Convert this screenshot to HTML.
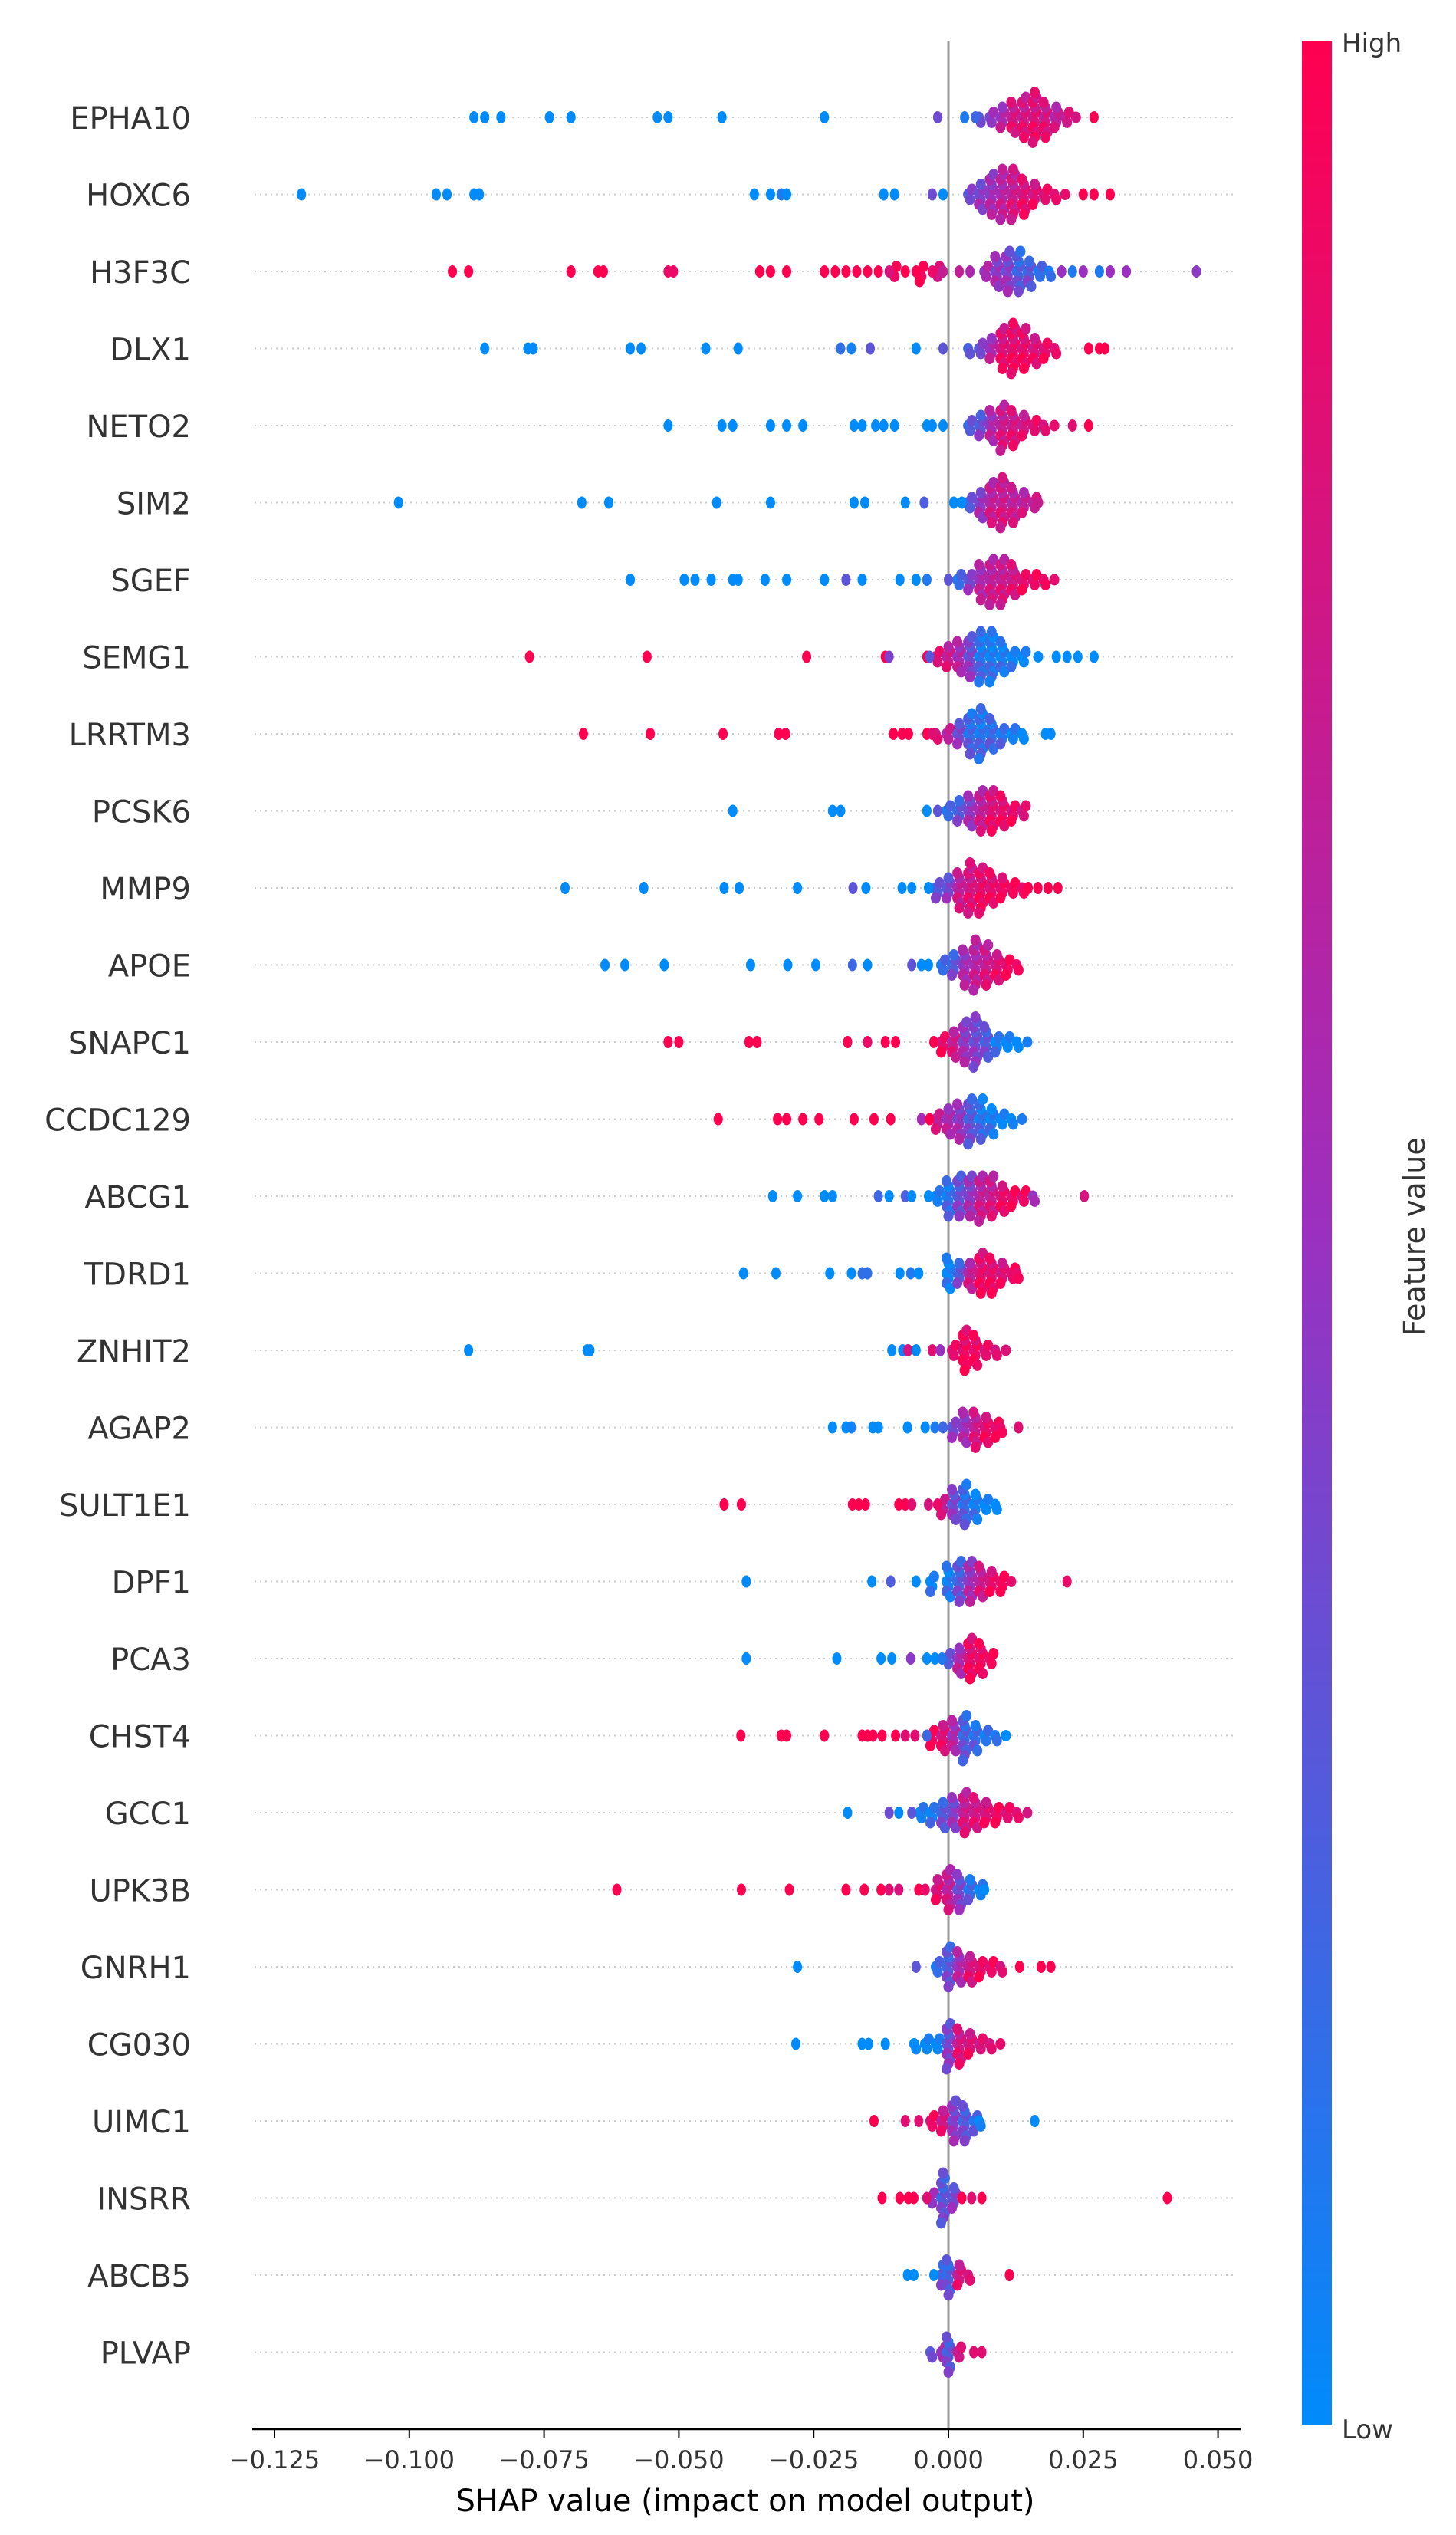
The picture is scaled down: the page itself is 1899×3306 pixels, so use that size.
<!DOCTYPE html>
<html><head><meta charset="utf-8">
<style>
html,body{margin:0;padding:0;background:#fff;}
svg{display:block;font-family:"DejaVu Sans","Liberation Sans",sans-serif;}
</style></head>
<body>
<svg id="chart" width="1899" height="3306" viewBox="0 0 1899 3306">
<defs>
<linearGradient id="cbar" x1="0" y1="1" x2="0" y2="0">
<stop offset="0" stop-color="#008bfb"/>
<stop offset="0.5" stop-color="#9b30c0"/>
<stop offset="1" stop-color="#ff0051"/>
</linearGradient>
</defs>
<g id="rows"></g>
<line x1="1237" y1="53" x2="1237" y2="3168" stroke="#999" stroke-width="3"/>
<g id="dots"></g>
<line x1="329" y1="3168" x2="1619" y2="3168" stroke="#000" stroke-width="2.5"/>
<g id="xticks"></g>
<text x="972" y="3275" font-size="40" text-anchor="middle" fill="#000">SHAP value (impact on model output)</text>
<rect x="1698" y="53" width="39" height="3110" fill="url(#cbar)"/>
<text x="1750" y="68" font-size="34" fill="#333">High</text>
<text x="1750" y="3180" font-size="34" fill="#333">Low</text>
<text transform="translate(1858,1613) rotate(-90)" font-size="38" text-anchor="middle" fill="#333">Feature value</text>
</svg>
<script>
const features = ["EPHA10","HOXC6","H3F3C","DLX1","NETO2","SIM2","SGEF","SEMG1","LRRTM3","PCSK6","MMP9","APOE","SNAPC1","CCDC129","ABCG1","TDRD1","ZNHIT2","AGAP2","SULT1E1","DPF1","PCA3","CHST4","GCC1","UPK3B","GNRH1","CG030","UIMC1","INSRR","ABCB5","PLVAP"];
const xTicks = [-0.125,-0.100,-0.075,-0.050,-0.025,0.000,0.025,0.050];
const xTickLabels = ["\u22120.125","\u22120.100","\u22120.075","\u22120.050","\u22120.025","0.000","0.025","0.050"];
// outliers: [shap value, feature value 0..1]
const outliers = [
 [[-0.088,0],[-0.086,0],[-0.083,0],[-0.074,0],[-0.070,0],[-0.054,0],[-0.052,0],[-0.042,0],[-0.023,0],[-0.002,0.35],[0.003,0.1],[0.005,0.2],[0.027,1]],
 [[-0.120,0],[-0.095,0],[-0.093,0],[-0.088,0],[-0.087,0],[-0.036,0],[-0.033,0],[-0.031,0.1],[-0.030,0],[-0.012,0],[-0.010,0],[-0.003,0.35],[-0.001,0],[0.025,1],[0.027,1],[0.030,1]],
 [[-0.092,1],[-0.089,1],[-0.070,1],[-0.065,1],[-0.064,1],[-0.052,0.9],[-0.051,0.9],[-0.035,1],[-0.033,1],[-0.030,1],[-0.023,1],[-0.021,1],[-0.019,1],[-0.017,1],[-0.015,1],[-0.013,1],[-0.011,0.8],[-0.008,1],[-0.006,1],[-0.003,0.9],[-0.001,0.7],[0.002,0.7],[0.004,0.6],[0.021,0.5],[0.023,0.1],[0.025,0.5],[0.028,0.1],[0.030,0.5],[0.033,0.5],[0.046,0.45]],
 [[-0.086,0],[-0.078,0],[-0.077,0],[-0.059,0],[-0.057,0],[-0.045,0],[-0.039,0],[-0.020,0.15],[-0.018,0.05],[-0.0145,0.3],[-0.006,0],[-0.001,0.3],[0.026,1],[0.028,1],[0.029,1]],
 [[-0.052,0],[-0.042,0],[-0.040,0],[-0.033,0],[-0.030,0],[-0.027,0],[-0.0175,0],[-0.016,0],[-0.0135,0],[-0.012,0],[-0.010,0],[-0.004,0],[-0.003,0],[-0.001,0],[0.023,0.85],[0.026,1]],
 [[-0.102,0],[-0.068,0],[-0.063,0],[-0.043,0],[-0.033,0],[-0.0175,0],[-0.0155,0],[-0.008,0],[-0.0045,0.25],[0.001,0],[0.0025,0]],
 [[-0.059,0],[-0.049,0],[-0.047,0],[-0.044,0],[-0.040,0],[-0.039,0],[-0.034,0],[-0.030,0],[-0.023,0],[-0.019,0.3],[-0.016,0],[-0.009,0],[-0.006,0],[-0.004,0.1],[0.000,0.3]],
 [[-0.0777,1],[-0.0559,1],[-0.0263,1],[-0.0117,1],[-0.011,0.4],[-0.004,1],[-0.0035,0.3],[0.020,0],[0.022,0],[0.024,0],[0.027,0]],
 [[-0.0677,1],[-0.0553,1],[-0.0418,1],[-0.0315,1],[-0.0302,1],[-0.0102,1],[-0.0086,1],[-0.0074,1],[-0.004,1],[-0.003,0.85],[0.018,0],[0.019,0]],
 [[-0.040,0],[-0.0215,0],[-0.020,0],[-0.004,0],[-0.002,0.3]],
 [[-0.0711,0],[-0.0565,0],[-0.0416,0],[-0.0388,0],[-0.028,0],[-0.0177,0.3],[-0.0153,0],[-0.0086,0],[-0.0068,0],[-0.0037,0],[0.0148,1],[0.0166,1],[0.0185,1],[0.0203,1]],
 [[-0.0637,0],[-0.0600,0],[-0.0527,0],[-0.0367,0],[-0.0298,0],[-0.0246,0],[-0.0178,0.2],[-0.015,0],[-0.0068,0.3],[-0.005,0],[-0.0037,0]],
 [[-0.052,1],[-0.050,1],[-0.037,1],[-0.0355,1],[-0.0187,1],[-0.015,0.9],[-0.0117,1],[-0.0098,1],[-0.0027,1]],
 [[-0.0427,1],[-0.0317,1],[-0.030,1],[-0.027,1],[-0.024,1],[-0.0175,1],[-0.0138,1],[-0.0107,1],[-0.005,0.55],[-0.0035,1]],
 [[-0.0326,0],[-0.028,0],[-0.023,0],[-0.0215,0],[-0.013,0.2],[-0.011,0],[-0.008,0.25],[-0.0068,0],[-0.0037,0],[0.0252,0.8]],
 [[-0.038,0],[-0.032,0],[-0.022,0],[-0.018,0],[-0.016,0.15],[-0.015,0.15],[-0.009,0],[-0.007,0.1],[-0.0055,0]],
 [[-0.089,0],[-0.067,0],[-0.0665,0],[-0.0105,0],[-0.0085,0.05],[-0.0075,0.8],[-0.006,0],[-0.003,0.85],[-0.0015,0.5]],
 [[-0.0215,0],[-0.019,0],[-0.018,0.05],[-0.014,0],[-0.013,0],[-0.0076,0],[-0.0043,0],[-0.0025,0.1],[-0.001,0.2],[0.013,0.85]],
 [[-0.0416,1],[-0.0384,1],[-0.0178,1],[-0.0166,1],[-0.0154,1],[-0.0092,1],[-0.008,1],[-0.0068,0.85],[-0.0037,0.8],[-0.002,0.9]],
 [[-0.0375,0],[-0.0142,0],[-0.0107,0.25],[-0.006,0],[0.022,0.9]],
 [[-0.0375,0],[-0.0207,0],[-0.0125,0],[-0.0105,0],[-0.007,0.45],[-0.004,0],[-0.0025,0],[-0.0012,0.1]],
 [[-0.0385,1],[-0.031,1],[-0.030,1],[-0.023,1],[-0.016,1],[-0.015,1],[-0.014,1],[-0.0123,1],[-0.0098,1],[-0.008,0.85],[-0.0062,0.85],[-0.004,0.2]],
 [[-0.0187,0],[-0.011,0.35],[-0.0092,0],[-0.0068,0.3]],
 [[-0.0615,1],[-0.0384,1],[-0.0295,1],[-0.019,1],[-0.0156,1],[-0.0125,1],[-0.011,0.85],[-0.0092,0.8],[-0.0055,1],[-0.0043,0.9]],
 [[-0.028,0],[-0.006,0.3],[0.0132,1],[0.0172,1],[0.019,1]],
 [[-0.0283,0],[-0.016,0],[-0.0148,0],[-0.0117,0]],
 [[-0.0138,1],[-0.008,0.85],[-0.0055,0.85],[0.016,0]],
 [[-0.0123,1],[-0.009,1],[-0.0074,1],[-0.0064,1],[-0.004,0.85],[0.0025,1],[0.0043,0.85],[0.0062,1],[0.0406,1]],
 [[-0.0076,0],[-0.0064,0],[-0.0027,0],[0.0113,1]],
 [[0.0047,0.85],[0.0062,0.85]]
];
// dense clusters: [shap value, count, mean feature value]
const clusters = [
 [[0.006,2,0.4],[0.008,3,0.5],[0.010,5,0.6],[0.012,7,0.8],[0.014,9,0.8],[0.016,11,0.85],[0.018,8,0.8],[0.020,5,0.7],[0.022,3,0.8],[0.024,1,0.9]],
 [[0.004,3,0.4],[0.006,6,0.45],[0.008,9,0.55],[0.010,11,0.65],[0.012,11,0.75],[0.014,8,0.85],[0.016,5,0.85],[0.018,3,0.9],[0.020,2,0.95],[0.022,1,1]],
 [[-0.010,3,0.95],[-0.005,4,0.95],[-0.002,3,0.8],[0.007,3,0.6],[0.009,7,0.5],[0.011,9,0.45],[0.013,9,0.25],[0.015,6,0.3],[0.017,3,0.2],[0.019,2,0.2]],
 [[0.004,2,0.35],[0.006,3,0.4],[0.008,5,0.6],[0.010,9,0.85],[0.012,11,0.9],[0.014,9,0.9],[0.016,6,0.85],[0.018,4,0.9],[0.020,2,0.95]],
 [[0.004,3,0.3],[0.006,5,0.35],[0.008,7,0.6],[0.010,10,0.75],[0.012,8,0.8],[0.014,5,0.8],[0.016,3,0.9],[0.018,2,0.9],[0.020,1,1]],
 [[0.004,3,0.3],[0.006,6,0.5],[0.008,9,0.7],[0.010,11,0.75],[0.012,8,0.7],[0.014,5,0.7],[0.016,3,0.75],[0.017,1,0.85]],
 [[0.002,3,0.2],[0.004,4,0.4],[0.006,8,0.6],[0.008,10,0.7],[0.010,10,0.75],[0.012,7,0.8],[0.014,4,0.9],[0.016,3,0.95],[0.018,2,1],[0.020,1,1]],
 [[-0.002,3,0.85],[0.000,5,0.75],[0.002,7,0.6],[0.004,9,0.4],[0.006,11,0.15],[0.008,11,0.1],[0.010,7,0.1],[0.012,4,0.05],[0.014,3,0.05],[0.017,1,0]],
 [[-0.002,2,0.9],[0.000,3,0.7],[0.002,5,0.4],[0.004,9,0.2],[0.006,11,0.15],[0.008,7,0.2],[0.010,4,0.15],[0.012,3,0.1],[0.014,2,0.05]],
 [[0.000,3,0.2],[0.002,5,0.3],[0.004,7,0.5],[0.006,9,0.7],[0.008,9,0.85],[0.010,7,0.9],[0.012,4,0.9],[0.014,3,0.85]],
 [[-0.002,4,0.3],[0.000,5,0.4],[0.002,8,0.7],[0.004,11,0.8],[0.006,10,0.9],[0.008,7,0.9],[0.010,5,0.95],[0.012,3,1],[0.014,2,1]],
 [[-0.001,3,0.2],[0.001,5,0.3],[0.003,8,0.55],[0.005,11,0.65],[0.007,9,0.75],[0.009,6,0.85],[0.011,4,0.95],[0.013,2,1]],
 [[-0.001,4,0.9],[0.001,6,0.75],[0.003,9,0.5],[0.005,11,0.4],[0.007,7,0.3],[0.009,4,0.1],[0.011,3,0.05],[0.013,2,0.05],[0.015,1,0.2]],
 [[-0.002,4,0.7],[0.000,6,0.6],[0.002,8,0.5],[0.004,10,0.3],[0.006,9,0.15],[0.008,6,0.1],[0.010,3,0.05],[0.012,2,0.1],[0.014,1,0.2]],
 [[-0.002,3,0.1],[0.000,8,0.15],[0.002,9,0.35],[0.004,9,0.5],[0.006,10,0.7],[0.008,9,0.75],[0.010,6,0.9],[0.012,4,0.95],[0.014,3,0.95],[0.016,2,0.6]],
 [[0.000,7,0.05],[0.002,5,0.3],[0.004,6,0.7],[0.006,9,0.9],[0.008,8,0.9],[0.010,5,0.85],[0.012,3,0.95],[0.013,2,1]],
 [[0.001,3,0.9],[0.003,9,0.95],[0.005,7,0.95],[0.007,3,0.9],[0.009,2,0.9],[0.011,1,0.95]],
 [[0.001,4,0.4],[0.003,7,0.55],[0.005,8,0.75],[0.007,6,0.9],[0.009,4,0.95],[0.010,2,1]],
 [[-0.001,4,0.7],[0.001,7,0.4],[0.003,9,0.2],[0.005,6,0.1],[0.007,3,0.05],[0.009,2,0.05]],
 [[-0.003,4,0.05],[0.000,7,0.1],[0.002,9,0.3],[0.004,9,0.55],[0.006,7,0.75],[0.008,5,0.9],[0.010,4,1],[0.012,1,1]],
 [[0.000,3,0.3],[0.002,6,0.6],[0.004,9,0.9],[0.006,7,0.95],[0.008,3,1]],
 [[-0.003,4,0.95],[-0.001,6,0.85],[0.001,7,0.6],[0.003,10,0.25],[0.005,6,0.2],[0.007,3,0.15],[0.009,2,0.2],[0.011,1,0.1]],
 [[-0.005,3,0.1],[-0.003,4,0.1],[-0.001,6,0.3],[0.001,7,0.45],[0.003,9,0.75],[0.005,7,0.8],[0.007,5,0.85],[0.009,4,0.95],[0.011,3,0.9],[0.013,2,0.95],[0.015,1,0.9]],
 [[-0.002,5,0.85],[0.000,9,0.7],[0.002,8,0.4],[0.004,5,0.2],[0.006,3,0.1],[0.007,1,0.05]],
 [[-0.002,3,0.2],[0.000,9,0.3],[0.002,7,0.6],[0.004,6,0.8],[0.006,4,0.9],[0.008,3,0.95],[0.010,2,0.9]],
 [[-0.006,2,0.05],[-0.004,3,0.05],[-0.002,3,0.05],[0.000,10,0.4],[0.002,8,0.8],[0.004,5,0.85],[0.006,3,0.85],[0.008,2,0.9],[0.010,1,1]],
 [[-0.003,3,0.95],[-0.001,5,0.8],[0.001,9,0.45],[0.003,8,0.3],[0.005,4,0.2],[0.006,2,0.1]],
 [[-0.003,3,0.5],[-0.001,11,0.3],[0.001,5,0.4]],
 [[-0.001,5,0.3],[0.000,8,0.25],[0.002,5,0.8],[0.004,2,0.9]],
 [[-0.003,2,0.4],[-0.001,3,0.6],[0.000,8,0.3],[0.002,3,0.8]]
];

const NS = "http://www.w3.org/2000/svg";
const X0 = 1237, PXU = 7032, ROW0 = 153, ROWH = 100.5, R = 6.5, STEP = 6.5;
function xScale(v){ return X0 + v*PXU; }
function yRow(i){ return ROW0 + i*ROWH; }
function lerp(a,b,t){ return Math.round(a+(b-a)*t); }
function color(t){
  const s0=[0,139,251], s1=[155,48,192], s2=[255,0,81];
  let a,b,u;
  if(t<0.5){a=s0;b=s1;u=t/0.5;} else {a=s1;b=s2;u=(t-0.5)/0.5;}
  return "rgb("+lerp(a[0],b[0],u)+","+lerp(a[1],b[1],u)+","+lerp(a[2],b[2],u)+")";
}
const rowsG = document.getElementById("rows");
const dotsG = document.getElementById("dots");
const tickG = document.getElementById("xticks");

features.forEach(function(f,i){
  const y = yRow(i);
  const ln = document.createElementNS(NS,"line");
  ln.setAttribute("x1",332); ln.setAttribute("x2",1611);
  ln.setAttribute("y1",y); ln.setAttribute("y2",y);
  ln.setAttribute("stroke","#cccccc"); ln.setAttribute("stroke-width","2");
  ln.setAttribute("stroke-dasharray","2 5");
  
  
  rowsG.appendChild(ln);
  const tx = document.createElementNS(NS,"text");
  tx.setAttribute("x",249); tx.setAttribute("y",y+15);
  tx.setAttribute("text-anchor","end"); tx.setAttribute("font-size","40");
  tx.setAttribute("fill","#333");
  tx.textContent = f;
  
  
  rowsG.appendChild(tx);

  const g = document.createElementNS(NS,"g");
  
  
  dotsG.appendChild(g);
  clusters[i].forEach(function(c){
    const n=c[1];
    for(let k=0;k<n;k++){
      const off = (k===0)?0:(k%2===1? Math.ceil(k/2) : -Math.ceil(k/2));
      const e = document.createElementNS(NS,"ellipse");
      e.setAttribute("cx", xScale(c[0]) + ((k%3)-1)*2.5);
      e.setAttribute("cy", y + off*STEP);
      e.setAttribute("rx", R); e.setAttribute("ry", R+1);
      e.setAttribute("fill", color(Math.min(1,Math.max(0,c[2] + ((k%4)-1.5)*0.08))));
      
      
      g.appendChild(e);
    }
  });
  outliers[i].forEach(function(p){
    const e = document.createElementNS(NS,"ellipse");
    e.setAttribute("cx", xScale(p[0])); e.setAttribute("cy", y);
    e.setAttribute("rx", R-0.5); e.setAttribute("ry", R+1.5);
    e.setAttribute("fill", color(p[1]));
    
    
    g.appendChild(e);
  });
});

xTicks.forEach(function(v,j){
  const x = xScale(v);
  const t = document.createElementNS(NS,"line");
  t.setAttribute("x1",x); t.setAttribute("x2",x);
  t.setAttribute("y1",3168); t.setAttribute("y2",3180);
  t.setAttribute("stroke","#000"); t.setAttribute("stroke-width","2");
  
  
  tickG.appendChild(t);
  const l = document.createElementNS(NS,"text");
  l.setAttribute("x",x); l.setAttribute("y",3219);
  l.setAttribute("text-anchor","middle"); l.setAttribute("font-size","32");
  l.setAttribute("fill","#333");
  l.textContent = xTickLabels[j];
  
  
  tickG.appendChild(l);
});
</script>
</body></html>
